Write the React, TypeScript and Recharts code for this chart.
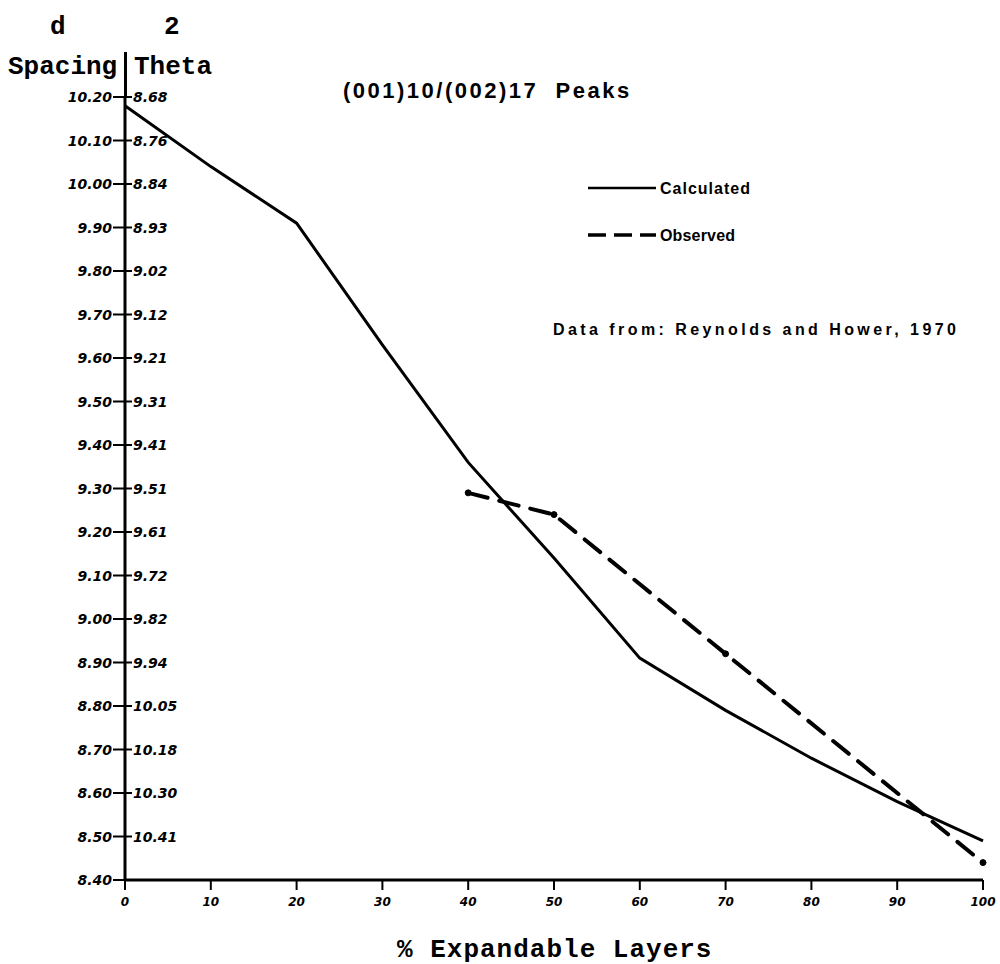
import React from 'react';
import { LineChart, Line, XAxis, YAxis } from 'recharts';

// % expandable layers (x) and d-spacing readings (y)
const expandable = [0, 10, 20, 30, 40, 50, 60, 70, 80, 90, 100];
const calculated = [10.18, 10.04, 9.91, 9.63, 9.36, 9.14, 8.91, 8.79, 8.68, 8.58, 8.49];
const observed = [null, null, null, null, 9.29, 9.24, null, 8.92, null, null, 8.44];

const dTicks = [10.2, 10.1, 10.0, 9.9, 9.8, 9.7, 9.6, 9.5, 9.4, 9.3, 9.2, 9.1, 9.0, 8.9, 8.8, 8.7, 8.6, 8.5, 8.4];
const dLabels = ['10.20', '10.10', '10.00', '9.90', '9.80', '9.70', '9.60', '9.50', '9.40', '9.30', '9.20', '9.10', '9.00', '8.90', '8.80', '8.70', '8.60', '8.50', '8.40'];
const thetaLabels = ['8.68', '8.76', '8.84', '8.93', '9.02', '9.12', '9.21', '9.31', '9.41', '9.51', '9.61', '9.72', '9.82', '9.94', '10.05', '10.18', '10.30', '10.41', ''];
const xTicks = [0, 10, 20, 30, 40, 50, 60, 70, 80, 90, 100];

const data = expandable.map((x, i) => ({ x, calculated: calculated[i], observed: observed[i] }));

const AXIS_X = 125;
const hand = { fontFamily: '"DejaVu Sans", sans-serif', fontWeight: 700, fontStyle: 'italic', fontSize: 14 };
const typewriter = { fontFamily: '"Liberation Mono", monospace', fontWeight: 700, color: '#000', lineHeight: '26px' };
const legendFont = { fontFamily: '"Liberation Sans", sans-serif', fontWeight: 700, fontSize: 16 };

const YTick = (props: any) => {
  const { y, payload } = props;
  const i = dTicks.findIndex((t) => Math.abs(t - payload.value) < 1e-6);
  return (
    <g>
      <line x1={AXIS_X - 12} x2={AXIS_X + 7} y1={y} y2={y} stroke="#000" strokeWidth={2} />
      <text x={AXIS_X - 13} y={y} dy={5} textAnchor="end" fill="#000" style={hand}>{dLabels[i]}</text>
      <text x={AXIS_X + 8} y={y} dy={5} textAnchor="start" fill="#000" style={hand}>{thetaLabels[i]}</text>
    </g>
  );
};

const XTick = (props: any) => {
  const { x, y, payload } = props;
  return (
    <text x={x} y={y} dy={12} textAnchor="middle" fill="#000" style={{ ...hand, fontSize: 12 }}>
      {payload.value}
    </text>
  );
};

export default function App() {
  return (
    <div style={{ position: 'absolute', left: 0, top: 0, width: 1000, height: 964, background: '#fff' }}>
      <LineChart width={1000} height={964} data={data} margin={{ top: 97, right: 17, bottom: 44, left: 0 }}>
        <XAxis
          dataKey="x"
          type="number"
          domain={[0, 100]}
          ticks={xTicks}
          interval={0}
          height={40}
          tickSize={10}
          tickMargin={4}
          axisLine={{ stroke: '#000', strokeWidth: 3 }}
          tickLine={{ stroke: '#000', strokeWidth: 2 }}
          tick={<XTick />}
        />
        <YAxis
          type="number"
          domain={[8.4, 10.2]}
          ticks={dTicks}
          interval={0}
          width={125}
          axisLine={{ stroke: '#000', strokeWidth: 3 }}
          tickLine={false}
          tick={<YTick />}
        />
        <Line
          type="linear"
          dataKey="calculated"
          stroke="#000"
          strokeWidth={3}
          dot={false}
          isAnimationActive={false}
        />
        <Line
          type="linear"
          dataKey="observed"
          stroke="#000"
          strokeWidth={4}
          strokeDasharray="20 12"
          strokeLinecap="round"
          connectNulls
          dot={{ r: 3, fill: '#000', stroke: '#000', strokeWidth: 1 }}
          isAnimationActive={false}
        />
      </LineChart>

      {/* column headers above the axis */}
      <div style={{ ...typewriter, position: 'absolute', left: 50, top: 14, fontSize: 26 }}>d</div>
      <div style={{ ...typewriter, position: 'absolute', left: 164, top: 14, fontSize: 26 }}>2</div>
      <div style={{ ...typewriter, position: 'absolute', left: 8, top: 54, fontSize: 26 }}>Spacing</div>
      <div style={{ ...typewriter, position: 'absolute', left: 134, top: 54, fontSize: 26 }}>Theta</div>
      <div style={{ position: 'absolute', left: 124, top: 52, width: 3, height: 46, background: '#000' }} />

      <div style={{ position: 'absolute', left: 343, top: 78, fontFamily: '"Liberation Sans", sans-serif', fontWeight: 700, fontSize: 22, letterSpacing: 2.5, whiteSpace: 'pre', color: '#000' }}>
        {'(001)10/(002)17  Peaks'}
      </div>

      {/* legend */}
      <svg style={{ position: 'absolute', left: 588, top: 180 }} width={180} height={66}>
        <line x1={0} y1={8} x2={68} y2={8} stroke="#000" strokeWidth={2.5} />
        <text x={72} y={14} textLength={90} lengthAdjust="spacing" fill="#000" style={legendFont}>Calculated</text>
        <line x1={0} y1={55} x2={68} y2={55} stroke="#000" strokeWidth={3.5} strokeDasharray="18 8" />
        <text x={72} y={61} textLength={75} lengthAdjust="spacing" fill="#000" style={legendFont}>Observed</text>
      </svg>

      <svg style={{ position: 'absolute', left: 553, top: 318 }} width={420} height={24}>
        <text x={0} y={17} textLength={403} lengthAdjust="spacing" fill="#000" style={legendFont}>
          Data from: Reynolds and Hower, 1970
        </text>
      </svg>

      <div style={{ ...typewriter, position: 'absolute', left: 397, top: 937, fontSize: 26, letterSpacing: 1, whiteSpace: 'pre' }}>
        % Expandable Layers
      </div>
    </div>
  );
}
